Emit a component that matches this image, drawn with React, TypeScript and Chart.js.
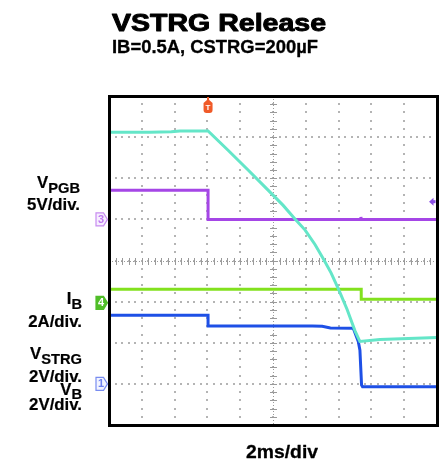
import React, { useEffect, useRef } from "react";
import { Chart, registerables } from "chart.js";
Chart.register(...registerables);

// Screen divisions
const X_DIVS = 10;
const Y_DIVS = 8;

// Titles and labels
const titleText = "VSTRG Release";
const subtitleText = "IB=0.5A, CSTRG=200\u00B5F";
const xLabelText = "2ms/div";
const chanMain = ["V", "I", "V", "V"];
const chanSub = ["PGB", "B", "STRG", "B"];
const chanScale = ["5V/div.", "2A/div.", "2V/div.", "2V/div."];

// Traces (x in divisions, y in divisions from bottom)
const vstrgX = [0, 1.25, 1.9, 2.16, 3.02, 3.63, 4.24, 4.85, 5.31, 5.67, 5.98, 6.28, 6.52, 6.77, 7.01, 7.26, 7.5, 7.65, 8.26, 10];
const vstrgY = [7.12, 7.12, 7.13, 7.15, 7.15, 6.68, 6.2, 5.71, 5.34, 5.01, 4.74, 4.39, 4.06, 3.7, 3.28, 2.81, 2.29, 2.03, 2.08, 2.13];

const vpgbX = [0, 3.02, 3.02, 7.67, 7.68, 7.69, 10];
const vpgbY = [5.71, 5.71, 5.0, 5.0, 5.06, 5.0, 5.0];

const ibX = [0, 7.69, 7.69, 10];
const ibY = [3.3, 3.3, 3.06, 3.06];

const vbX = [0, 3.02, 3.02, 6.2, 6.5, 6.75, 7.45, 7.6, 7.65, 7.7, 7.73, 10];
const vbY = [2.67, 2.67, 2.41, 2.41, 2.4, 2.36, 2.35, 2.03, 1.82, 0.97, 0.93, 0.93];

// Marker positions (divisions)
const triggerX = 3.02;
const chanMarkerY = [5.0, 2.97, 1.0];
const pgbRightArrowY = 5.43;

const COL_CYAN = "rgb(100,230,200)";
const COL_PURPLE = "rgb(165,70,230)";
const COL_GREEN = "rgb(130,225,30)";
const COL_BLUE = "rgb(30,80,230)";

const FONT = '"Liberation Sans", Arial, Helvetica, sans-serif';

function pts(xs: number[], ys: number[]) {
  return xs.map((x, i) => ({ x, y: ys[i] }));
}

function drawText(ctx: CanvasRenderingContext2D, text: string, x: number, y: number, size: number, align: "left" | "right", sx = 1, color = "#000", stroke = 0) {
  ctx.save();
  ctx.setLineDash([]);
  ctx.font = `bold ${size}px ${FONT}`;
  const w = ctx.measureText(text).width * sx;
  const x0 = align === "right" ? x - w : x;
  ctx.translate(x0, y);
  ctx.scale(sx, 1);
  ctx.fillStyle = color;
  ctx.textAlign = "left";
  ctx.textBaseline = "alphabetic";
  ctx.fillText(text, 0, 0);
  if (stroke > 0) {
    ctx.strokeStyle = color;
    ctx.lineWidth = stroke;
    ctx.lineJoin = "round";
    ctx.strokeText(text, 0, 0);
  }
  ctx.restore();
  return w;
}

function fitText(ctx: CanvasRenderingContext2D, text: string, x: number, y: number, size: number, width: number, stroke = 0) {
  ctx.save();
  ctx.font = `bold ${size}px ${FONT}`;
  const w = ctx.measureText(text).width;
  ctx.restore();
  drawText(ctx, text, x, y, size, "left", width / w, "#000", stroke);
}

function drawSubLabel(ctx: CanvasRenderingContext2D, main: string, sub: string, right: number, baseline: number, subOff: number) {
  ctx.save();
  ctx.font = `bold 16px ${FONT}`;
  const wm = ctx.measureText(main).width * 1.05;
  ctx.font = `bold 14px ${FONT}`;
  const ws = ctx.measureText(sub).width * 1.05;
  ctx.restore();
  const left = right - wm - ws;
  drawText(ctx, main, left, baseline, 16, "left", 1.05, "#000", 0.2);
  drawText(ctx, sub, left + wm, baseline + subOff, 14, "left", 1.05, "#000", 0.2);
}

function drawFrame(ctx: CanvasRenderingContext2D, area: any) {
  const l = Math.round(area.left), r = Math.round(area.right);
  const t = Math.round(area.top), b = Math.round(area.bottom);
  ctx.save();
  ctx.setTransform(1, 0, 0, 1, 0, 0);
  ctx.globalAlpha = 1;
  ctx.globalCompositeOperation = "source-over";
  ctx.fillStyle = "rgb(0,0,0)";
  ctx.fillRect(l - 1, t - 1, r - l + 3, 3);
  ctx.fillRect(l - 1, b - 1, r - l + 3, 3);
  ctx.fillRect(l - 1, t - 1, 3, b - t + 3);
  ctx.fillRect(r - 1, t - 1, 3, b - t + 3);
  ctx.restore();
}

const scopePlugin = {
  id: "scope",
  beforeDatasetsDraw(chart: any) {
    const ctx: CanvasRenderingContext2D = chart.ctx;
    const xs = chart.scales.x;
    const ys = chart.scales.y;
    ctx.save();
    ctx.fillStyle = "#b4b4b4";
    for (let i = 1; i < X_DIVS; i++) {
      const px = Math.round(xs.getPixelForValue(i));
      for (let j = 1; j < Y_DIVS * 5; j++) {
        const py = Math.round(ys.getPixelForValue(j / 5));
        ctx.fillRect(px - 1, py - 1, 2, 2);
      }
    }
    for (let j = 1; j < Y_DIVS; j++) {
      const py = Math.round(ys.getPixelForValue(j));
      for (let i = 1; i < X_DIVS * 5; i++) {
        const px = Math.round(xs.getPixelForValue(i / 5));
        ctx.fillRect(px - 1, py - 1, 2, 2);
      }
    }
    ctx.fillStyle = "#9a9a9a";
    const cx = Math.round(xs.getPixelForValue(X_DIVS / 2));
    const cy = Math.round(ys.getPixelForValue(Y_DIVS / 2));
    for (let i = 1; i < X_DIVS * 5; i++) {
      const px = Math.round(xs.getPixelForValue(i / 5));
      ctx.fillRect(px, cy - 3, 1, 7);
    }
    for (let j = 1; j < Y_DIVS * 5; j++) {
      const py = Math.round(ys.getPixelForValue(j / 5));
      ctx.fillRect(cx - 3, py, 7, 1);
    }
    const { left, right, top, bottom } = chart.chartArea;
    for (let x = left; x < right; x += 3) ctx.fillRect(Math.round(x), cy, 1, 1);
    for (let y = top; y < bottom; y += 3) ctx.fillRect(cx, Math.round(y), 1, 1);
    ctx.restore();
  },
  afterDatasetsDraw(chart: any) {
    drawFrame(chart.ctx, chart.chartArea);
  },
  afterDraw(chart: any) {
    const ctx: CanvasRenderingContext2D = chart.ctx;
    const xs = chart.scales.x;
    const ys = chart.scales.y;
    drawFrame(ctx, chart.chartArea);
    ctx.save();

    // trigger marker
    const tx = xs.getPixelForValue(triggerX);
    ctx.fillStyle = "rgb(240,90,40)";
    ctx.beginPath();
    ctx.moveTo(tx - 4.5, 103);
    ctx.lineTo(tx, 99);
    ctx.lineTo(tx + 4.5, 103);
    ctx.lineTo(tx + 4.5, 110);
    ctx.quadraticCurveTo(tx + 4.5, 113, tx + 1.5, 113);
    ctx.lineTo(tx - 1.5, 113);
    ctx.quadraticCurveTo(tx - 4.5, 113, tx - 4.5, 110);
    ctx.closePath();
    ctx.fill();
    ctx.fillRect(tx - 1, 97, 2, 3);
    ctx.fillStyle = "#fff";
    ctx.font = `bold 8px ${FONT}`;
    ctx.textAlign = "center";
    ctx.textBaseline = "middle";
    ctx.fillText("T", tx, 107.5);

    // channel markers left
    const marker = (cy: number, fill: string, stroke: string, txt: string, tcol: string) => {
      const x0 = 96, x1 = 103.5, x2 = 107.5;
      ctx.setLineDash([]);
      ctx.beginPath();
      ctx.moveTo(x0, cy - 6.5);
      ctx.lineTo(x1, cy - 6.5);
      ctx.lineTo(x2, cy);
      ctx.lineTo(x1, cy + 6.5);
      ctx.lineTo(x0, cy + 6.5);
      ctx.closePath();
      ctx.fillStyle = fill;
      ctx.fill();
      ctx.strokeStyle = stroke;
      ctx.lineWidth = 1.2;
      ctx.stroke();
      ctx.fillStyle = tcol;
      ctx.font = `bold 11px ${FONT}`;
      ctx.textAlign = "center";
      ctx.textBaseline = "middle";
      ctx.fillText(txt, x0 + 5, cy + 0.5);
    };
    marker(ys.getPixelForValue(chanMarkerY[0]), "#f6eefe", "rgb(200,140,240)", "3", "rgb(190,120,240)");
    marker(ys.getPixelForValue(chanMarkerY[1]), "rgb(80,190,40)", "rgb(80,190,40)", "4", "#fff");
    marker(ys.getPixelForValue(chanMarkerY[2]), "#f2f4ff", "rgb(120,140,240)", "1", "rgb(110,130,240)");

    // right arrow for purple
    const ay = ys.getPixelForValue(pgbRightArrowY);
    ctx.fillStyle = "rgb(140,80,230)";
    ctx.beginPath();
    ctx.moveTo(429, ay);
    ctx.lineTo(433.5, ay - 4);
    ctx.lineTo(433.5, ay + 4);
    ctx.closePath();
    ctx.fill();
    ctx.fillRect(433, ay - 1.5, 2.5, 3);

    // titles
    fitText(ctx, titleText, 112, 31, 23, 214, 0.9);
    fitText(ctx, subtitleText, 112, 53, 18.5, 206, 0.3);
    fitText(ctx, xLabelText, 246, 458, 18.5, 72, 0.3);

    // channel labels
    const mainBase = [188, 304, 359, 395];
    const subOff = [5, 5, 5, 4];
    const rights = [80, 82, 82, 82];
    const scaleBase = [210, 327, 382, 410];
    for (let i = 0; i < chanMain.length; i++) {
      drawSubLabel(ctx, chanMain[i], chanSub[i], rights[i], mainBase[i], subOff[i]);
      drawText(ctx, chanScale[i], rights[i], scaleBase[i], 16, "right", 1.05, "#000", 0.2);
    }
    ctx.restore();
  },
};

export default function App() {
  const ref = useRef<HTMLCanvasElement | null>(null);
  useEffect(() => {
    if (!ref.current) return;
    const ds = (label: string, xs: number[], ys: number[], color: string, order: number) => ({
      label,
      data: pts(xs, ys),
      borderColor: color,
      backgroundColor: color,
      borderWidth: 3,
      pointRadius: 0,
      showLine: true,
      tension: 0,
      order,
    });
    const chart = new Chart(ref.current, {
      type: "scatter",
      data: {
        datasets: [
          ds("VSTRG", vstrgX, vstrgY, COL_CYAN, 0),
          ds("VPGB", vpgbX, vpgbY, COL_PURPLE, 3),
          ds("IB", ibX, ibY, COL_GREEN, 2),
          ds("VB", vbX, vbY, COL_BLUE, 1),
        ],
      },
      options: {
        responsive: false,
        animation: false,
        devicePixelRatio: 1,
        layout: { padding: { left: 109, top: 96, right: 3, bottom: 43 } },
        scales: {
          x: { type: "linear", min: 0, max: X_DIVS, display: false },
          y: { type: "linear", min: 0, max: Y_DIVS, display: false },
        },
        plugins: {
          legend: { display: false },
          tooltip: { enabled: false },
          title: { display: false },
        },
      },
      plugins: [scopePlugin],
    });
    return () => chart.destroy();
  }, []);
  return (
    <div style={{ position: "fixed", left: 0, top: 0, width: 440, height: 468, background: "#fff" }}>
      <canvas ref={ref} width={440} height={468} style={{ width: 440, height: 468, display: "block" }} />
    </div>
  );
}
